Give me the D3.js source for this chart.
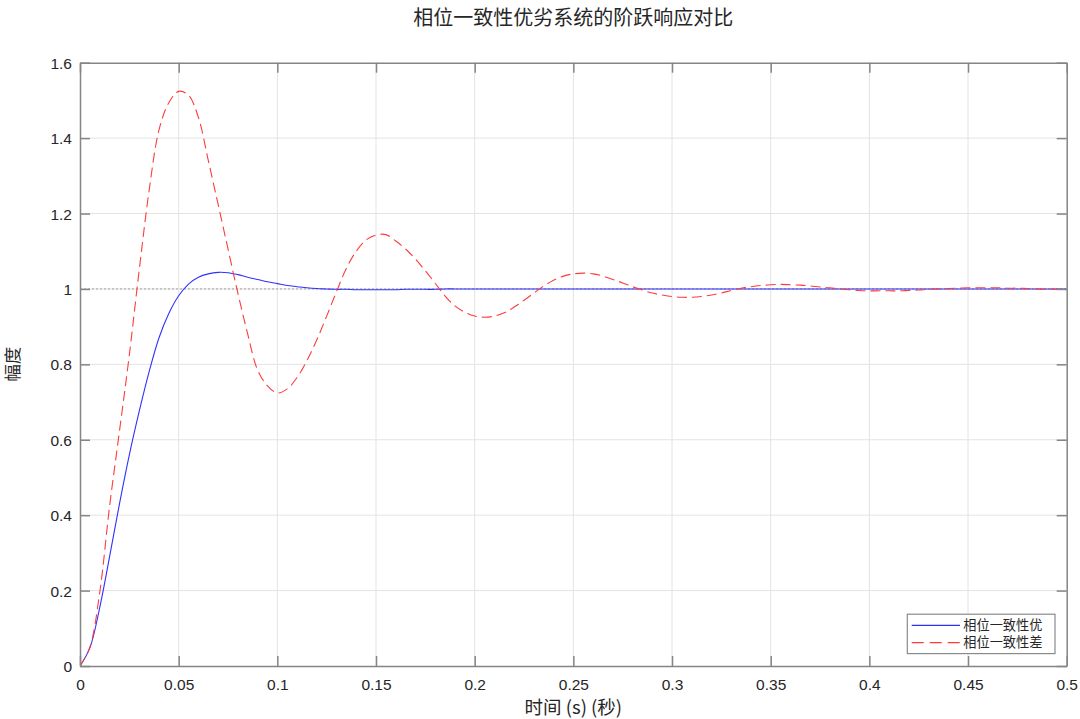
<!DOCTYPE html>
<html>
<head>
<meta charset="utf-8">
<script src="https://cdn.jsdelivr.net/npm/d3@7"></script>
<style>
  body { margin: 0; background: #fff; }
  text { font-family: "Liberation Sans", Arial, "Noto Sans CJK SC", sans-serif; fill: #262626; }
  .cjk { font-family: "Noto Sans CJK SC", sans-serif; }
</style>
</head>
<body>
<div id="chart"></div>
<script>
// время (с) – отсчёты по 0.005
const timeSteps = d3.range(0, 101).map(i => +(i * 0.005).toFixed(3));

// 相位一致性优
const goodSeries = [
  0, 0.048, 0.155, 0.29, 0.43, 0.56, 0.675, 0.78, 0.87, 0.935,
  0.982, 1.013, 1.031, 1.04, 1.044, 1.043, 1.038, 1.031, 1.025, 1.019,
  1.014, 1.009, 1.006, 1.003, 1.001, 1.0, 0.999, 0.999, 0.998, 0.998,
  0.998, 0.998, 0.998, 0.999, 0.999, 0.999, 0.999, 1.0, 1.0, 1.0,
  1.0, 1.0, 1.0, 1.0, 1.0, 1.0, 1.0, 1.0, 1.0, 1.0,
  1.0, 1.0, 1.0, 1.0, 1.0, 1.0, 1.0, 1.0, 1.0, 1.0,
  1.0, 1.0, 1.0, 1.0, 1.0, 1.0, 1.0, 1.0, 1.0, 1.0,
  1.0, 1.0, 1.0, 1.0, 1.0, 1.0, 1.0, 1.0, 1.0, 1.0,
  1.0, 1.0, 1.0, 1.0, 1.0, 1.0, 1.0, 1.0, 1.0, 1.0,
  1.0, 1.0, 1.0, 1.0, 1.0, 1.0, 1.0, 1.0, 1.0, 1.0,
  1.0
];

// 相位一致性差
const poorSeries = [
  0, 0.05, 0.195, 0.424, 0.623, 0.825, 1.05, 1.26, 1.421, 1.494,
  1.524, 1.514, 1.455, 1.341, 1.224, 1.106, 0.989, 0.88, 0.785, 0.743,
  0.724, 0.735, 0.765, 0.81, 0.865, 0.928, 0.993, 1.055, 1.1, 1.13,
  1.143, 1.144, 1.127, 1.106, 1.079, 1.048, 1.015, 0.981, 0.955, 0.938,
  0.928, 0.925, 0.928, 0.937, 0.952, 0.97, 0.989, 1.008, 1.023, 1.034,
  1.04, 1.042, 1.04, 1.034, 1.025, 1.016, 1.006, 0.997, 0.989, 0.984,
  0.98, 0.978, 0.978, 0.98, 0.984, 0.989, 0.996, 1.002, 1.006, 1.009,
  1.011, 1.012, 1.011, 1.01, 1.008, 1.005, 1.003, 1.0, 0.998, 0.996,
  0.995, 0.995, 0.995, 0.995, 0.996, 0.997, 0.999, 1.0, 1.001, 1.002,
  1.003, 1.003, 1.003, 1.003, 1.002, 1.002, 1.001, 1.0, 0.999, 0.999,
  0.998
];

const xTicks = [0, 0.05, 0.1, 0.15, 0.2, 0.25, 0.3, 0.35, 0.4, 0.45, 0.5];
const yTicks = [0, 0.2, 0.4, 0.6, 0.8, 1, 1.2, 1.4, 1.6];
const seriesNames = ["相位一致性优", "相位一致性差"];

const width = 1080, height = 719;
const margin = { top: 62.7, right: 13.3, bottom: 53, left: 80 };
const innerW = width - margin.left - margin.right;
const innerH = height - margin.top - margin.bottom;

const svg = d3.select("#chart").append("svg")
  .attr("width", width)
  .attr("height", height);

const x = d3.scaleLinear().domain([0, 0.5]).range([0, innerW]);
const y = d3.scaleLinear().domain([0, 1.6]).range([innerH, 0]);

const g = svg.append("g").attr("transform", `translate(${margin.left},${margin.top})`);

// сетка
g.append("g").selectAll("line.vgrid")
  .data(xTicks.slice(1, -1))
  .enter().append("line")
  .attr("x1", d => x(d)).attr("x2", d => x(d))
  .attr("y1", 0).attr("y2", innerH)
  .attr("stroke", "#e3e3e3").attr("stroke-width", 1);

g.append("g").selectAll("line.hgrid")
  .data(yTicks.slice(1, -1))
  .enter().append("line")
  .attr("x1", 0).attr("x2", innerW)
  .attr("y1", d => y(d)).attr("y2", d => y(d))
  .attr("stroke", "#e3e3e3").attr("stroke-width", 1);

g.append("clipPath").attr("id", "clip")
  .append("rect").attr("width", innerW).attr("height", innerH);

const plot = g.append("g").attr("clip-path", "url(#clip)");

// опорная линия y = 1
plot.append("line")
  .attr("x1", 0).attr("x2", innerW)
  .attr("y1", y(1)).attr("y2", y(1))
  .attr("stroke", "#a0a0a0").attr("stroke-width", 1)
  .attr("stroke-dasharray", "2,2");

const line = d3.line()
  .x((d, i) => x(timeSteps[i]))
  .y(d => y(d))
  .curve(d3.curveCatmullRom);

plot.append("path")
  .datum(goodSeries)
  .attr("d", line)
  .attr("fill", "none")
  .attr("stroke", "#3030ff")
  .attr("stroke-width", 1.1);

plot.append("path")
  .datum(poorSeries)
  .attr("d", line)
  .attr("fill", "none")
  .attr("stroke", "#ff3b3b")
  .attr("stroke-width", 1.1)
  .attr("stroke-dasharray", "10,5");

// оси (рамка, засечки внутрь)
const axisColor = "#858585";
const tickLen = 10;

const xAxis = g.append("g").attr("transform", `translate(0,${innerH})`)
  .call(d3.axisBottom(x).tickValues(xTicks).tickSizeInner(-tickLen).tickSizeOuter(0).tickPadding(10)
    .tickFormat(d => d3.format("~g")(d)));
const xAxisTop = g.append("g")
  .call(d3.axisTop(x).tickValues(xTicks).tickSizeInner(-tickLen).tickSizeOuter(0).tickFormat(""));
const yAxis = g.append("g")
  .call(d3.axisLeft(y).tickValues(yTicks).tickSizeInner(-tickLen).tickSizeOuter(0).tickPadding(8)
    .tickFormat(d => d3.format("~g")(d)));
const yAxisRight = g.append("g").attr("transform", `translate(${innerW},0)`)
  .call(d3.axisRight(y).tickValues(yTicks).tickSizeInner(-tickLen).tickSizeOuter(0).tickFormat(""));

[xAxis, xAxisTop, yAxis, yAxisRight].forEach(a => {
  a.select(".domain").attr("stroke", axisColor).attr("stroke-width", 1.5);
  a.selectAll(".tick line").attr("stroke", axisColor).attr("stroke-width", 1.5);
  a.selectAll(".tick text").attr("font-size", 15.5).attr("fill", "#333")
    .attr("font-family", '"Liberation Sans", Arial, sans-serif');
});
yAxis.selectAll(".tick text").attr("dy", "0.36em");
xAxis.selectAll(".tick text").attr("dy", "0.9em");

// заголовок и подписи осей
svg.append("text")
  .attr("class", "cjk")
  .attr("x", margin.left + innerW / 2)
  .attr("y", 24.5)
  .attr("text-anchor", "middle")
  .attr("font-size", 20)
  .attr("fill", "#333")
  .text("相位一致性优劣系统的阶跃响应对比");

svg.append("text")
  .attr("class", "cjk")
  .attr("x", margin.left + innerW / 2)
  .attr("y", 714)
  .attr("text-anchor", "middle")
  .attr("font-size", 18.5)
  .attr("fill", "#333")
  .text("时间 (s) (秒)");

svg.append("text")
  .attr("class", "cjk")
  .attr("transform", `translate(19,${margin.top + innerH / 2}) rotate(-90)`)
  .attr("text-anchor", "middle")
  .attr("font-size", 17.5)
  .attr("fill", "#333")
  .text("幅度");

// легенда
const legend = svg.append("g").attr("transform", "translate(907.3,614.2)");
legend.append("rect")
  .attr("width", 147.7).attr("height", 39.4)
  .attr("fill", "#fff")
  .attr("stroke", "#8a8a8a").attr("stroke-width", 1.2);

const legendStyles = [
  { color: "#3030ff", dash: null },
  { color: "#ff3b3b", dash: "12,6" }
];
legend.selectAll("g.item")
  .data(seriesNames)
  .enter().append("g")
  .attr("class", "item")
  .attr("transform", (d, i) => `translate(0,${11.2 + i * 17.2})`)
  .each(function (d, i) {
    const item = d3.select(this);
    item.append("line")
      .attr("x1", 4.4).attr("x2", 52.7)
      .attr("stroke", legendStyles[i].color)
      .attr("stroke-width", 1.1)
      .attr("stroke-dasharray", legendStyles[i].dash);
    item.append("text")
      .attr("class", "cjk")
      .attr("x", 56)
      .attr("dy", "0.36em")
      .attr("font-size", 13.2)
      .attr("fill", "#333")
      .text(d);
  });
</script>
</body>
</html>
